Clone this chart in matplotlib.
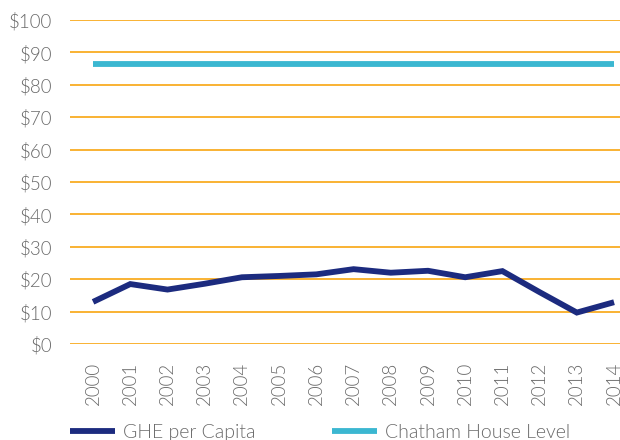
import matplotlib
matplotlib.use("Agg")
import matplotlib.pyplot as plt

years = ["2000", "2001", "2002", "2003", "2004", "2005", "2006", "2007",
         "2008", "2009", "2010", "2011", "2012", "2013", "2014"]
ghe_per_capita = [13.0, 18.5, 16.8, 18.6, 20.6, 21.0, 21.5, 23.1,
                  22.0, 22.6, 20.6, 22.5, 16.0, 9.7, 12.9]
chatham_level = [86.3] * len(years)
yticks = [0, 10, 20, 30, 40, 50, 60, 70, 80, 90, 100]

plt.rcParams['font.family'] = ['Lato', 'DejaVu Sans']
label_color = '#6a6a6a'

fig = plt.figure(figsize=(6.2, 4.4), dpi=100)
ax = fig.add_axes([70/620, 1-344/440, 550/620, 324/440])

x = list(range(len(years)))
ax.plot(x, ghe_per_capita, color='#1C2B7F', lw=4.2, solid_capstyle='butt',
        solid_joinstyle='miter', label='GHE per Capita', zorder=3)
ax.plot(x, chatham_level, color='#3BB7D1', lw=4.2, solid_capstyle='butt',
        label='Chatham House Level', zorder=3)

ax.set_ylim(0, 100)
ax.set_xlim(-0.62, 14.16)
ax.set_yticks(yticks)
ax.set_yticklabels([f"${v}" for v in yticks], fontweight=300)
ax.set_xticks(x)
ax.set_xticklabels(years, rotation=90, fontweight=300)
ax.tick_params(axis='both', length=0, labelsize=13.5, labelcolor=label_color)
ax.tick_params(axis='x', pad=13)
ax.tick_params(axis='y', pad=13)
ax.yaxis.grid(True, color='#F9B233', lw=1.4)
ax.set_axisbelow(True)
for s in ax.spines.values():
    s.set_visible(False)

leg = fig.legend(loc='center left', bbox_to_anchor=(70/620, 1-432/440), ncol=2,
                 frameon=False, handlelength=2.3, handletextpad=0.45,
                 columnspacing=3.9, prop={'size': 14, 'weight': 300},
                 labelcolor=label_color, borderaxespad=0, borderpad=0)

fig.savefig("out.png", dpi=100)
